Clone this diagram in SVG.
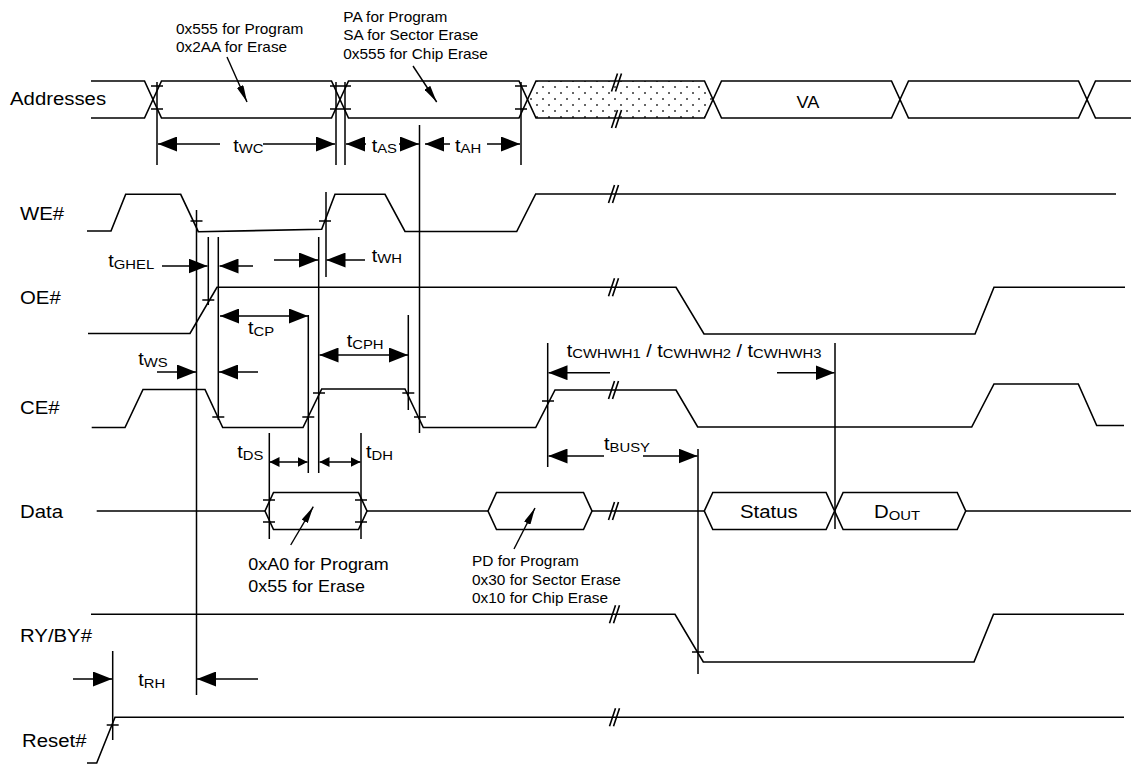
<svg xmlns="http://www.w3.org/2000/svg" width="1131" height="764" viewBox="0 0 1131 764">
<style>
.s{fill:none;stroke:#000;stroke-width:1.6;stroke-linejoin:miter}
.v{fill:none;stroke:#000;stroke-width:1.5}
.ar{fill:none;stroke:#000;stroke-width:1.5;marker-end:url(#a)}
.ar2{fill:none;stroke:#000;stroke-width:1.5;marker-start:url(#a);marker-end:url(#a)}
.sm2{fill:none;stroke:#000;stroke-width:1.5;marker-start:url(#sm);marker-end:url(#sm)}
.an{fill:none;stroke:#000;stroke-width:1.4;marker-end:url(#na)}
.dot{fill:url(#dots)}
text{font-family:"Liberation Sans",Arial,Helvetica,sans-serif;fill:#000;white-space:pre}
.lbl{font-size:18.5px}
.ann{font-size:14px}
.ann2{font-size:16.3px}
.tl{font-size:18px}
.sb{font-size:13.5px}
</style>
<defs>
<marker id="a" viewBox="0 0 19 15" refX="19" refY="7.5" markerWidth="19" markerHeight="15" markerUnits="userSpaceOnUse" orient="auto-start-reverse"><path d="M0,0 L19,7.5 L0,15 Z" fill="#000"/></marker>
<marker id="sm" viewBox="0 0 10 10" refX="10" refY="5" markerWidth="10" markerHeight="10" markerUnits="userSpaceOnUse" orient="auto-start-reverse"><path d="M0,0 L10,5 L0,10 Z" fill="#000"/></marker>
<marker id="na" viewBox="0 0 17 7" refX="17" refY="3.5" markerWidth="17" markerHeight="7" markerUnits="userSpaceOnUse" orient="auto"><path d="M0,0 L17,3.5 L0,7 Z" fill="#000"/></marker>
<pattern id="dots" width="12" height="12" patternUnits="userSpaceOnUse"><circle cx="3" cy="3" r="1" fill="#333"/><circle cx="9" cy="9" r="1" fill="#333"/></pattern>
<path id="brk" d="M-5.5 9 L0.5 -9 M-1.5 9 L4.5 -9" fill="none" stroke="#000" stroke-width="1.6"/>
</defs>
<rect width="1131" height="764" fill="#fff"/>

<g id="labels">
<text class="lbl" transform="translate(10 105) scale(1.1 1)">Addresses</text>
<text class="lbl" transform="translate(20 219.5) scale(1.1 1)">WE#</text>
<text class="lbl" transform="translate(20 304) scale(1.1 1)">OE#</text>
<text class="lbl" transform="translate(20 414) scale(1.1 1)">CE#</text>
<text class="lbl" transform="translate(20 517.5) scale(1.1 1)">Data</text>
<text class="lbl" transform="translate(20 642) scale(1.1 1)">RY/BY#</text>
<text class="lbl" transform="translate(22 747) scale(1.1 1)">Reset#</text>
</g>

<g id="addresses">
<path class="s" d="M91 81 H144.5 L153 99.5 L144.5 118 H91"/>
<path class="s" d="M153 99.5 L161.5 81 H331.5 L340 99.5 L331.5 118 H161.5 Z"/>
<path class="s" d="M340 99.5 L348.5 81 H519 L527.5 99.5 L519 118 H348.5 Z"/>
<path class="s dot" d="M527.5 99.5 L536 81 H704.5 L713 99.5 L704.5 118 H536 Z"/>
<path class="s" d="M713 99.5 L721.5 81 H891.5 L900 99.5 L891.5 118 H721.5 Z"/>
<path class="s" d="M900 99.5 L908.5 81 H1078.5 L1087 99.5 L1078.5 118 H908.5 Z"/>
<path class="s" d="M1131 81 H1095.5 L1087 99.5 L1095.5 118 H1131"/>
<use href="#brk" x="617" y="82.5"/>
<use href="#brk" x="617" y="119"/>
<text class="ann" transform="translate(808 107.5) scale(1.1 1)" text-anchor="middle" style="font-size:16.5px">VA</text>
<text class="ann" transform="translate(176 34) scale(1.1 1)">0x555 for Program</text>
<text class="ann" transform="translate(176 52) scale(1.1 1)">0x2AA for Erase</text>
<text class="ann" transform="translate(343.3 21.7) scale(1.1 1)">PA for Program</text>
<text class="ann" transform="translate(343.3 40.3) scale(1.1 1)">SA for Sector Erase</text>
<text class="ann" transform="translate(343.3 59) scale(1.1 1)">0x555 for Chip Erase</text>
</g>

<g id="we">
<path class="s" d="M87 231 H111 L125.7 194.3 H180.7 L198.3 231.7 L321.7 229.3 L335 194.3 H385 L405 231.5 H516.7 L535.7 194 H1116"/>
<use href="#brk" x="614" y="194"/>
</g>

<g id="oe">
<path class="s" d="M88 333.5 H190 L217 287.3 H676 L704 334 H975 L994 287.3 H1125"/>
<use href="#brk" x="614" y="287.3"/>
</g>

<g id="ce">
<path class="s" d="M91.7 427.5 H125 L143 389.5 H205 L222.7 427.5 H303 L321.7 389 H405 L423.3 427.5 H535.7 L555 390 H676 L697.7 427 H971.7 L994 384 H1078.3 L1096.7 425.5 H1124"/>
<use href="#brk" x="614" y="390"/>
</g>

<g id="data">
<path class="s" d="M96.7 511 H265 M367 511 H488 M592 511 H704.3 M965.7 511 H1131"/>
<path class="s" d="M265 511 L273.5 492.5 H358.5 L367 511 L358.5 529.5 H273.5 Z"/>
<path class="s" d="M488 511 L496.5 492.5 H583.5 L592 511 L583.5 529.5 H496.5 Z"/>
<path class="s" d="M704.3 511 L712.8 492.5 H826.1 L834.6 511 L826.1 529.5 H712.8 Z"/>
<path class="s" d="M834.6 511 L843.1 492.5 H957.2 L965.7 511 L957.2 529.5 H843.1 Z"/>
<use href="#brk" x="614" y="511"/>
<text class="lbl" transform="translate(740 517.5) scale(1.1 1)">Status</text>
<text class="lbl" transform="translate(874 517.5) scale(1.1 1)">D<tspan class="sb" dy="2">OUT</tspan></text>
<text class="ann2" transform="translate(248.3 570) scale(1.1 1)">0xA0 for Program</text>
<text class="ann2" transform="translate(248.3 592) scale(1.1 1)">0x55 for Erase</text>
<text class="ann" transform="translate(472 566) scale(1.1 1)">PD for Program</text>
<text class="ann" transform="translate(472 584.5) scale(1.1 1)">0x30 for Sector Erase</text>
<text class="ann" transform="translate(472 603) scale(1.1 1)">0x10 for Chip Erase</text>
</g>

<g id="ryby">
<path class="s" d="M91 614.3 H675 L703.3 662 H974 L993.5 614.3 H1124"/>
<use href="#brk" x="615" y="614.3"/>
</g>

<g id="reset">
<path class="s" d="M87 763 H96.7 L115 717.3 H1124"/>
<use href="#brk" x="615" y="717.3"/>
</g>

<g id="connectors">
<path class="v" d="M157 82 V165 M336 82 V165 M345 82 V165 M521 82 V165 M419.5 125 V433 M196.5 210 V695 M208.3 237 V305 M218.3 237 V420 M326 192 V277 M318.7 237 V473 M308.3 315 V473 M408.3 315 V410 M269.3 433 V539 M361 433 V539 M547.7 343 V467 M835 343 V529 M698 449 V674 M112.7 651 V740"/>
<path class="v" d="M151 86 H163 M151 109 H163 M330 86 H342 M330 109 H342 M339 86 H351 M339 109 H351 M515 86 H527 M515 109 H527 M190.5 221 H202.5 M319 221 H331 M202.3 300 H214.3 M212.3 417 H224.3 M302.3 417 H314.3 M313 393 H325 M402.3 393 H414.3 M414 417 H426 M542 401 H554 M263 500 H275 M263 522 H275 M355 500 H367 M355 522 H367 M692 652 H704 M106.7 725 H118.7"/>
<path class="ar" d="M220 144 H158"/>
<path class="ar" d="M263 144 H335"/>
<path class="ar" d="M366 144 H346"/>
<path class="ar" d="M399 144 H419"/>
<path class="ar" d="M450 144 H425"/>
<path class="ar" d="M487 144 H520"/>
<path class="ar" d="M162 266 H207.5"/>
<path class="ar" d="M253 266 H219.5"/>
<path class="ar" d="M274 260 H318"/>
<path class="ar" d="M365 260 H326.5"/>
<path class="ar2" d="M220 316 H308"/>
<path class="ar2" d="M319.5 355 H408"/>
<path class="ar" d="M157 372 H196"/>
<path class="ar" d="M258 372 H219"/>
<path class="ar" d="M610 372.7 H548.5"/>
<path class="ar" d="M777 372.7 H834.5"/>
<path class="ar" d="M604 456 H548.5"/>
<path class="ar" d="M643 456 H697.5"/>
<path class="sm2" d="M269.5 462 H307.5"/>
<path class="sm2" d="M319.5 462 H360.5"/>
<path class="ar" d="M73 679 H112"/>
<path class="ar" d="M258 679 H197"/>
<path class="an" d="M227 57 L247 102"/>
<path class="an" d="M413 66 L436.7 102"/>
<path class="an" d="M290.7 545 L313.3 506.7"/>
<path class="an" d="M514 549 L535 508"/>
</g>

<g id="timing-labels">
<text class="tl" transform="translate(233.3 151.5) scale(1.1 1)">t<tspan class="sb" dy="1.5">WC</tspan></text>
<text class="tl" transform="translate(371.7 151.5) scale(1.1 1)">t<tspan class="sb" dy="1.5">AS</tspan></text>
<text class="tl" transform="translate(455 151.5) scale(1.1 1)">t<tspan class="sb" dy="1.5">AH</tspan></text>
<text class="tl" transform="translate(108.3 267) scale(1.1 1)">t<tspan class="sb" dy="1.5">GHEL</tspan></text>
<text class="tl" transform="translate(371.7 261.5) scale(1.1 1)">t<tspan class="sb" dy="1.5">WH</tspan></text>
<text class="tl" transform="translate(248 334) scale(1.1 1)">t<tspan class="sb" dy="1.5">CP</tspan></text>
<text class="tl" transform="translate(346.7 347) scale(1.1 1)">t<tspan class="sb" dy="1.5">CPH</tspan></text>
<text class="tl" transform="translate(138.3 365) scale(1.1 1)">t<tspan class="sb" dy="1.5">WS</tspan></text>
<text class="tl" transform="translate(237.3 458) scale(1.1 1)">t<tspan class="sb" dy="1.5">DS</tspan></text>
<text class="tl" transform="translate(366 458) scale(1.1 1)">t<tspan class="sb" dy="1.5">DH</tspan></text>
<text class="tl" transform="translate(566.7 356.7) scale(1.1 1)">t<tspan class="sb" dy="1.5">CWHWH1</tspan><tspan dy="-1.5"> / t</tspan><tspan class="sb" dy="1.5">CWHWH2</tspan><tspan dy="-1.5"> / t</tspan><tspan class="sb" dy="1.5">CWHWH3</tspan></text>
<text class="tl" transform="translate(604 450) scale(1.1 1)">t<tspan class="sb" dy="1.5">BUSY</tspan></text>
<text class="tl" transform="translate(138.3 686) scale(1.1 1)">t<tspan class="sb" dy="1.5">RH</tspan></text>
</g>
</svg>
